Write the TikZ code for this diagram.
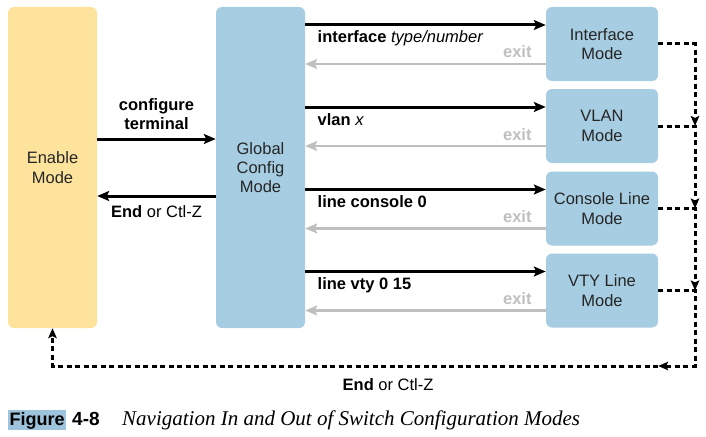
\documentclass[tikz,border=0pt]{standalone}
\usepackage{fontspec}
\setmainfont{Liberation Sans}
\newfontfamily\capserif{Liberation Serif}
\usetikzlibrary{arrows.meta,positioning,calc}
\definecolor{modeblue}{RGB}{166,205,226}
\definecolor{enableyellow}{RGB}{254,227,156}
\definecolor{figblue}{RGB}{158,195,220}

\begin{document}
\begin{tikzpicture}[x=1pt, y=-1pt,
    mode/.style={fill=modeblue, rounded corners=6pt, align=center, text=black!85, font=\fontsize{16.5}{19.3}\selectfont},
    cmd/.style={font=\fontsize{16.5}{19.3}\selectfont, inner sep=0pt},
    fwd/.style={-{Stealth[length=12pt,width=10pt,inset=2.5pt]}, line width=3pt},
    back/.style={-{Stealth[length=12pt,width=10pt,inset=2.5pt]}, line width=2.5pt, gray!50},
    esc/.style={-{Stealth[length=10pt,width=8.5pt,inset=2pt]}, line width=3pt, dash pattern=on 5pt off 3.5pt}
]
\useasboundingbox (0,0) rectangle (706,436);

\node[mode, fill=enableyellow, minimum width=89pt, minimum height=321pt] (enab) at (52.5,167.5) {Enable\\Mode};
\node[mode, minimum width=89pt, minimum height=321pt] (glob) at (260.5,167.5) {Global\\Config\\Mode};
\node[mode, minimum width=112pt, minimum height=74pt] (intf) at (602,44) {Interface\\Mode};
\node[mode, minimum width=112pt, minimum height=74pt] (vlan) at (602,126) {VLAN\\Mode};
\node[mode, minimum width=112pt, minimum height=74pt] (cons) at (602,208.5) {Console Line\\Mode};
\node[mode, minimum width=112pt, minimum height=74pt] (vty) at (602,290.5) {VTY Line\\Mode};

\draw[fwd] ([yshift=28.5pt]enab.east) -- ([yshift=28.5pt]enab.east -| glob.west)
    node[cmd, midway, above=8pt, align=center] (cfg) {\textbf{configure}\\\textbf{terminal}};
\draw[fwd] ([yshift=-28.5pt]glob.west) -- ([yshift=-28.5pt]glob.west -| enab.east)
    node[cmd, midway, below=8pt] (endl) {\textbf{End} or Ctl-Z};

\foreach \m/\lab in {intf/{\textbf{interface} \textit{type/number}}, vlan/{\textbf{vlan} \textit{x}}, cons/{\textbf{line console 0}}, vty/{\textbf{line vty 0 15}}} {
  \draw[fwd] ([yshift=19pt]\m.west -| glob.east) -- ([yshift=19pt]\m.west)
      node[cmd, pos=0, anchor=base west, xshift=11pt, yshift=-18pt] (l\m) {\lab};
  \draw[back] ([yshift=-20pt]\m.west) -- ([yshift=-20pt]\m.west -| glob.east)
      node[cmd, pos=0, anchor=base east, xshift=-13pt, yshift=6pt, text=gray!50] (x\m) {\textbf{exit}};
}

\coordinate (bus) at (695,366);
\foreach \a/\b in {intf/vlan, vlan/cons, cons/vty}
  \draw[esc] (\a.east) -- (\a.east -| bus) -- (\b.east -| bus);
\draw[esc] (vty.east) -- (vty.east -| bus) -- (bus) -- (vty.east |- bus);
\draw[esc] (vty.east |- bus) -- node[cmd, pos=0.446, below=11pt] (endb) {\textbf{End} or Ctl-Z} (enab.south |- bus) -- (enab.south);

\node[fill=figblue, font=\fontsize{18}{20}\selectfont\bfseries, inner xsep=1.5pt, inner ysep=1.5pt, text height=14pt, text depth=3.5pt, anchor=base west] (figtag) at (8,425) {Figure};
\node[font=\fontsize{19}{20}\selectfont\bfseries, anchor=base west, inner sep=0pt] (fignum) at (72,425) {4-8};
\node[font=\capserif\itshape\fontsize{21}{24}\selectfont, anchor=base west, inner sep=0pt] (figcap) at (122,425) {Navigation In and Out of Switch Configuration Modes};
\end{tikzpicture}
\end{document}
